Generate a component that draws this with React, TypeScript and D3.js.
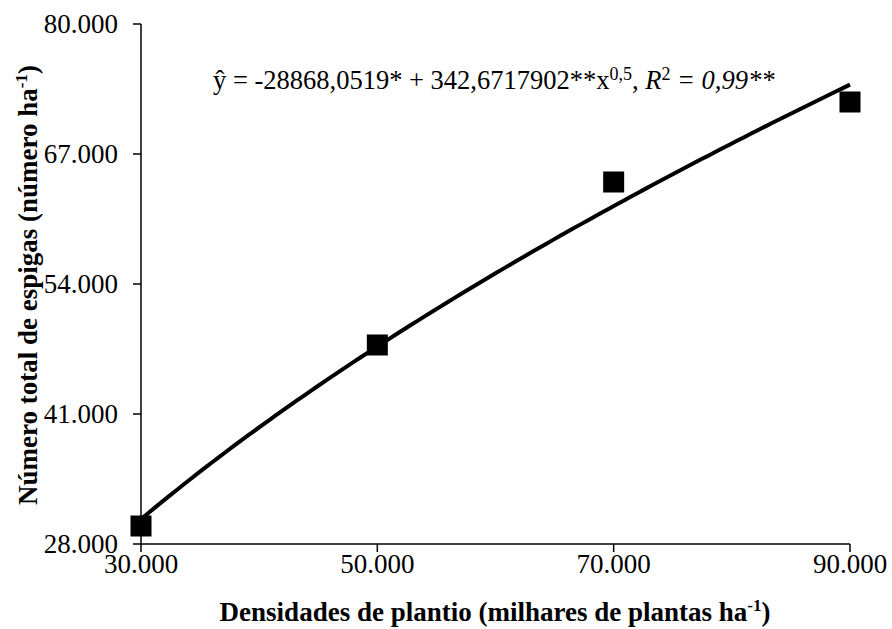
import React from "react";
import * as d3 from "d3";

const densities = [30000, 50000, 70000, 90000];
const espigas = [29800, 47900, 64200, 72200];
const yTicks = [28000, 41000, 54000, 67000, 80000];
const xTicks = [30000, 50000, 70000, 90000];
const coefA = -28868.0519;
const coefB = 342.6717902;

const W = 892;
const H = 629;
const FONT = "Liberation Serif";

const fmt = (v: number) => d3.format(",")(v).replace(/,/g, ".");

export default function App() {
  const x = d3.scaleLinear().domain([30000, 90000]).range([141, 850]);
  const y = d3.scaleLinear().domain([28000, 80000]).range([544, 24]);

  const curveXs = d3.range(0, 101).map((i) => 30000 + (i / 100) * 60000);
  const line = d3
    .line<number>()
    .x((d) => x(d))
    .y((d) => y(coefA + coefB * Math.sqrt(d)));

  const sq = 21;
  const ts = { fontFamily: FONT };

  return (
    <svg
      width={W}
      height={H}
      style={{ position: "absolute", left: 0, top: 0, background: "#fff" }}
    >
      <rect x={0} y={0} width={W} height={H} fill="#fff" />
      <line x1={141} x2={141} y1={y(80000)} y2={y(28000)} stroke="#000" strokeWidth={1.5} />
      <line x1={141} x2={x(90000)} y1={544} y2={544} stroke="#000" strokeWidth={1.5} />
      {yTicks.map((t) => (
        <g key={"y" + t}>
          <line x1={133} x2={141} y1={y(t)} y2={y(t)} stroke="#000" strokeWidth={1.5} />
          <text style={ts} x={118} y={y(t)} dy="0.35em" textAnchor="end" fontSize={27} fill="#000">
            {fmt(t)}
          </text>
        </g>
      ))}
      {xTicks.map((t) => (
        <g key={"x" + t}>
          <line x1={x(t)} x2={x(t)} y1={544} y2={552} stroke="#000" strokeWidth={1.5} />
          <text style={ts} x={x(t)} y={573} textAnchor="middle" fontSize={27} fill="#000">
            {fmt(t)}
          </text>
        </g>
      ))}
      <path d={line(curveXs) || ""} fill="none" stroke="#000" strokeWidth={4} />
      {densities.map((d, i) => (
        <rect
          key={"p" + d}
          x={x(d) - sq / 2}
          y={y(espigas[i]) - sq / 2}
          width={sq}
          height={sq}
          fill="#000"
        />
      ))}
      <text style={ts} x={213} y={89} fontSize={26.5} fill="#000">
        <tspan>ŷ = -28868,0519* + 342,6717902**x</tspan>
        <tspan fontSize={18} dy={-9}>0,5</tspan>
        <tspan dy={9}>, </tspan>
        <tspan fontStyle="italic">R</tspan>
        <tspan fontSize={18} dy={-9}>2</tspan>
        <tspan dy={9} fontStyle="italic"> = 0,99**</tspan>
      </text>
      <text style={ts} x={495} y={621} textAnchor="middle" fontSize={27} fontWeight="bold" fill="#000">
        <tspan>Densidades de plantio (milhares de plantas ha</tspan>
        <tspan fontSize={17} dy={-10}>-1</tspan>
        <tspan dy={10}>)</tspan>
      </text>
      <text
        style={ts}
        transform="translate(37,285) rotate(-90)"
        textAnchor="middle"
        fontSize={27}
        fontWeight="bold"
        fill="#000"
      >
        <tspan>Número total de espigas (número ha</tspan>
        <tspan fontSize={17} dy={-10}>-1</tspan>
        <tspan dy={10}>)</tspan>
      </text>
    </svg>
  );
}
